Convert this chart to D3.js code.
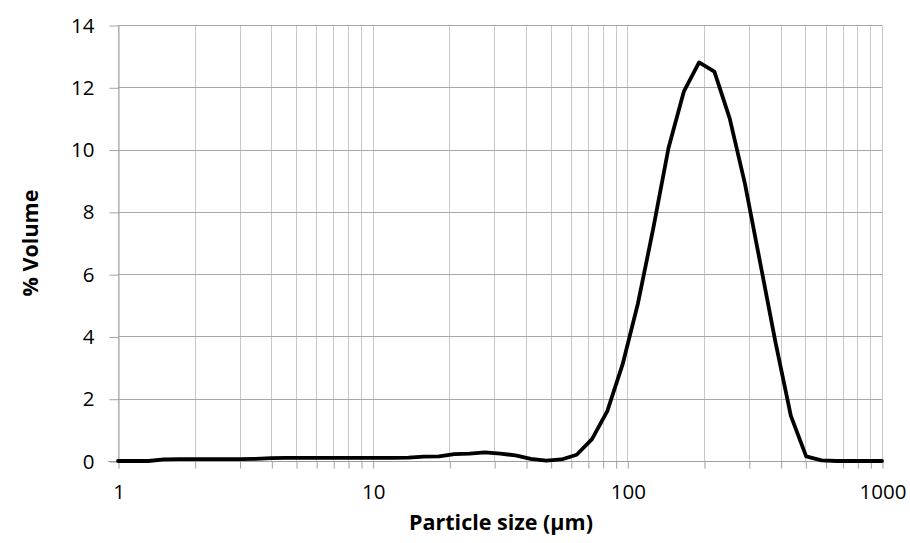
<!DOCTYPE html>
<html>
<head>
<meta charset="utf-8">
<script src="https://cdn.jsdelivr.net/npm/d3@7"></script>
<style>
  html, body { margin: 0; padding: 0; background: #fff; }
  svg { display: block; }
  text { font-family: "Open Sans", "Liberation Sans", sans-serif; fill: #000; }
</style>
</head>
<body>
<svg id="chart" width="910" height="543"></svg>
<script>
// Particle size (µm)
const sizes = [1.000,1.148,1.318,1.514,1.739,1.995,2.291,2.630,3.020,3.467,3.981,4.573,5.250,6.029,6.924,7.950,9.129,
  10.48,12.04,13.82,15.87,18.22,20.93,24.03,27.59,31.69,36.38,41.78,47.98,55.10,63.26,72.65,83.43,95.80,
  110.0,126.3,145.1,166.6,191.3,219.7,252.3,289.7,332.7,382.0,438.7,503.8,578.5,664.3,762.8,876.0,1000];
// % Volume
const volumes = [0,0,0,0.05,0.06,0.06,0.06,0.06,0.06,0.07,0.09,0.10,0.10,0.10,0.10,0.10,0.10,
  0.10,0.10,0.11,0.14,0.15,0.22,0.24,0.28,0.24,0.18,0.07,0.01,0.05,0.20,0.70,1.60,3.10,
  5.05,7.45,10.05,11.86,12.80,12.50,11.00,8.90,6.35,3.80,1.45,0.15,0.02,0,0,0,0];
const xTickLabels = [1, 10, 100, 1000];
const yTickLabels = [0, 2, 4, 6, 8, 10, 12, 14];
const xTitle = "Particle size (µm)";
const yTitle = "% Volume";

const W = 910, H = 543;
const m = { left: 118, right: 28, top: 25, bottom: 82 };
const svg = d3.select("#chart");

const x = d3.scaleLog().domain([1, 1000]).range([m.left, W - m.right]);
const y = d3.scaleLinear().domain([0, 14]).range([H - m.bottom, m.top]);

const data = sizes.map((s, i) => ({ s, v: volumes[i] }));

// vertical gridlines (major + minor)
svg.append("g")
  .selectAll("line")
  .data(x.ticks())
  .join("line")
  .attr("x1", d => Math.round(x(d)) + 0.5)
  .attr("x2", d => Math.round(x(d)) + 0.5)
  .attr("y1", y(14))
  .attr("y2", y(0))
  .attr("stroke", "#c8c8c8")
  .attr("stroke-width", 1);

// horizontal gridlines
svg.append("g")
  .selectAll("line")
  .data(yTickLabels.filter(d => d > 0))
  .join("line")
  .attr("x1", m.left)
  .attr("x2", W - m.right)
  .attr("y1", d => Math.round(y(d)) + 0.5)
  .attr("y2", d => Math.round(y(d)) + 0.5)
  .attr("stroke", "#a8a8a8")
  .attr("stroke-width", 1);

// x axis
const xAxis = d3.axisBottom(x)
  .tickValues(x.ticks())
  .tickSize(7)
  .tickSizeOuter(0)
  .tickFormat(d => xTickLabels.includes(d) ? d3.format("d")(d) : "");
const gx = svg.append("g")
  .attr("transform", `translate(0.5,${Math.round(y(0)) + 0.5})`)
  .call(xAxis);
gx.select(".domain").attr("stroke", "#a0a0a0").attr("d", `M${m.left - 10 - 0.5},0H${W - m.right}`);
gx.selectAll(".tick line").attr("stroke", "#a0a0a0");
gx.selectAll(".tick text")
  .attr("dy", 0).attr("y", 37)
  .style("font-size", "20.5px")
  .style("font-family", "\"Open Sans\", sans-serif");

// y axis
const yAxis = d3.axisLeft(y)
  .tickValues(yTickLabels)
  .tickSize(9)
  .tickSizeOuter(0)
  .tickPadding(15);
const gy = svg.append("g")
  .attr("transform", `translate(${m.left + 0.5},0.5)`)
  .call(yAxis);
gy.select(".domain").attr("stroke", "#a0a0a0");
gy.selectAll(".tick line").attr("stroke", "#a0a0a0");
gy.selectAll(".tick text")
  .style("font-size", "20.5px")
  .style("font-family", "\"Open Sans\", sans-serif");

// curve
const line = d3.line()
  .x(d => x(d.s))
  .y(d => y(d.v))
  .curve(d3.curveLinear);
svg.append("path")
  .datum(data)
  .attr("d", line)
  .attr("fill", "none")
  .attr("stroke", "#000")
  .attr("stroke-width", 3.8)
  .attr("stroke-linejoin", "round")
  .attr("stroke-linecap", "round");

// axis titles
svg.append("text")
  .attr("x", (m.left + W - m.right) / 2 + 1)
  .attr("y", 530)
  .attr("text-anchor", "middle")
  .style("font-size", "21.5px")
  .style("font-weight", "bold")
  .text(xTitle);

svg.append("text")
  .attr("transform", `translate(38,${(m.top + H - m.bottom) / 2}) rotate(-90)`)
  .attr("text-anchor", "middle")
  .style("font-size", "21.5px")
  .style("font-weight", "bold")
  .text(yTitle);
</script>
</body>
</html>
